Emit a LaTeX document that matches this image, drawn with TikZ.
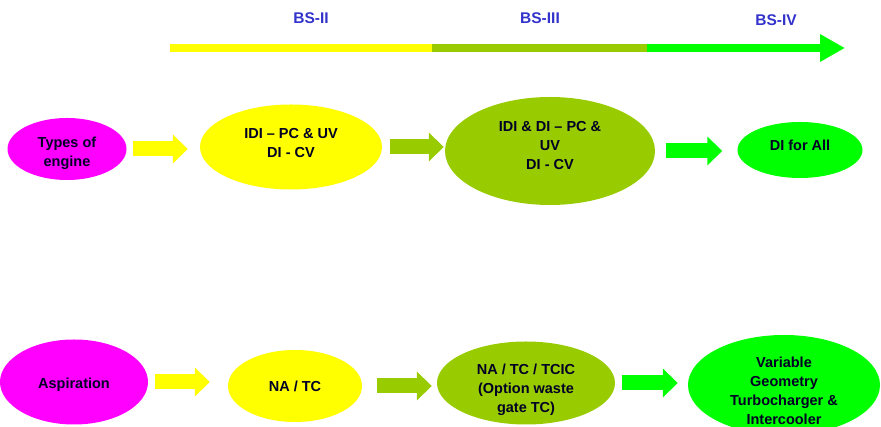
\documentclass[tikz,border=0pt]{standalone}
\usepackage{fontspec}
\setmainfont{Liberation Sans}
\usetikzlibrary{arrows.meta,shapes.geometric}
\definecolor{ylw}{RGB}{255,255,0}
\definecolor{olv}{RGB}{153,204,0}
\definecolor{grn}{RGB}{0,255,0}
\definecolor{mag}{RGB}{255,0,255}
\definecolor{lblue}{RGB}{51,51,204}

\begin{document}
\begin{tikzpicture}[x=1pt,y=1pt,
  every node/.style={font=\fontsize{14.5}{19}\selectfont\bfseries, align=center, text=black!85!blue},
  blob/.style={ellipse, inner sep=0pt},
  fat/.style={line width=15pt, -{Triangle[length=15pt,width=28pt]}},
  stage/.style={text=lblue, font=\fontsize{15.5}{19}\selectfont\bfseries}]
  \useasboundingbox (0,0) rectangle (881,427);
  % timeline
  \node[stage] (s2) at (311,409) {BS-II};
  \node[stage] (s3) at (540,409) {BS-III};
  \node[stage] (s4) at (776,407) {BS-IV};
  \draw[line width=8pt, ylw] (170,379) -- (432,379);
  \draw[line width=8pt, olv] (432,379) -- (647,379);
  \draw[line width=8pt, grn, -{Triangle[length=25pt,width=26pt]}] (647,379) -- (845,379);

  % types of engine
  \node[blob, fill=mag, minimum width=119, minimum height=62] (eng) at (67,278) {};
  \node[blob, fill=ylw, minimum width=182, minimum height=85] (idi) at (291,280) {};
  \node[blob, fill=olv, minimum width=210, minimum height=108] (ididi) at (550,276) {};
  \node[blob, fill=grn, minimum width=125, minimum height=56] (diall) at (800,277) {};
  \node (eng-t) at ([yshift=-4]eng) {Types of\\engine};
  \node (idi-t) at ([yshift=4]idi) {IDI -- PC \& UV\\DI - CV};
  \node (ididi-t) at ([yshift=5]ididi) {IDI \& DI -- PC \&\\UV\\DI - CV};
  \node (diall-t) at ([yshift=5]diall) {DI for All};
  \draw[fat, ylw] ([xshift=6.5]eng.east) -- ([xshift=-12]eng.east -| idi.west);
  \draw[fat, olv] ([xshift=8]idi.east) -- ([xshift=-1]idi.east -| ididi.west);
  \draw[fat, grn] ([xshift=11]ididi.east) -- ([xshift=-15]ididi.east -| diall.west);

  % aspiration
  \node[blob, fill=mag, minimum width=148, minimum height=85] (asp) at (74,45) {};
  \node[blob, fill=ylw, minimum width=134, minimum height=72] (natc) at (295,41) {};
  \node[blob, fill=olv, minimum width=178, minimum height=83] (tcic) at (526,44) {};
  \node[blob, fill=grn, minimum width=192, minimum height=100] (vgt) at (784,42) {};
  \node (asp-t) at ([yshift=-3]asp) {Aspiration};
  \node (natc-t) at (natc) {NA / TC};
  \node (tcic-t) at ([yshift=-7]tcic) {NA / TC / TCIC\\(Option waste\\gate TC)};
  \node (vgt-t) at ([yshift=-6]vgt) {Variable\\Geometry\\Turbocharger \&\\Intercooler};
  \draw[fat, ylw] ([xshift=7]asp.east) -- ([xshift=-18]asp.east -| natc.west);
  \draw[fat, olv] ([xshift=15]natc.east) -- ([xshift=-5]natc.east -| tcic.west);
  \draw[fat, grn] ([xshift=7]tcic.east) -- ([xshift=-10]tcic.east -| vgt.west);
\end{tikzpicture}
\end{document}
